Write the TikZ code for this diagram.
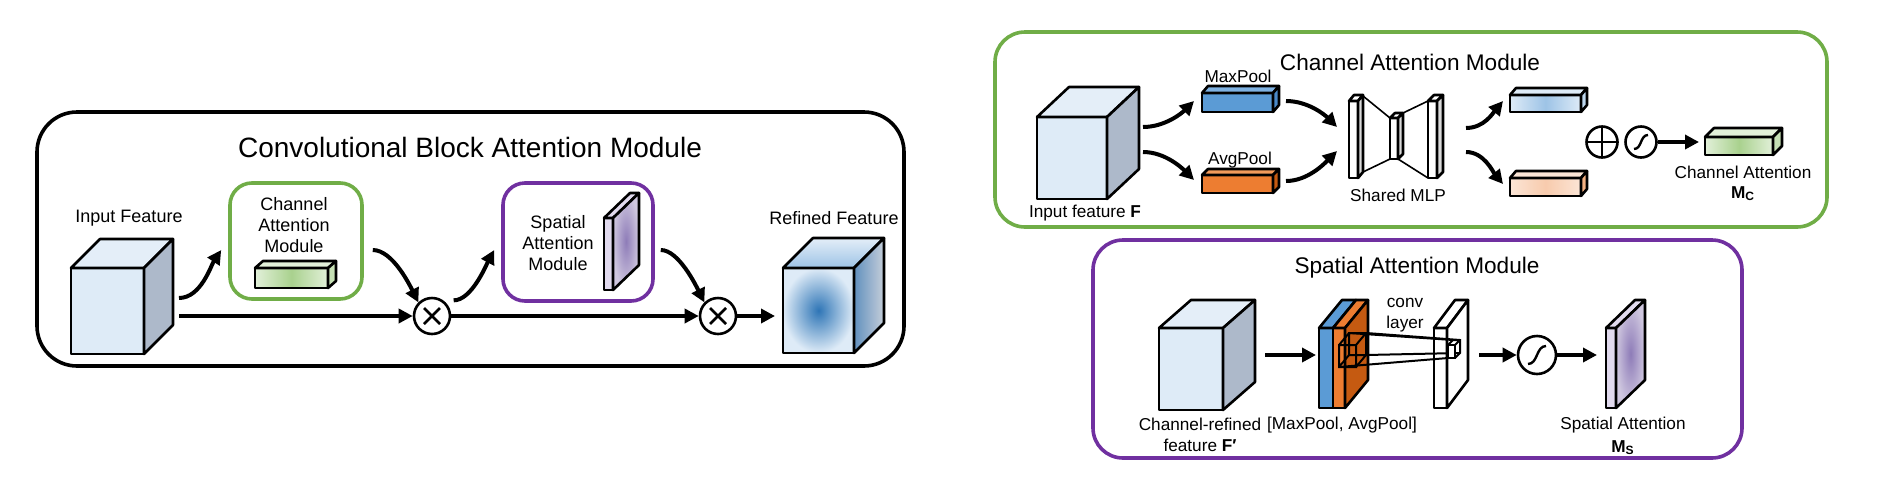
\documentclass[tikz,border=0pt]{standalone}
\usepackage{fontspec}
\setmainfont{Liberation Sans}
\usetikzlibrary{arrows.meta}

\definecolor{cubeface}{HTML}{DEEBF7}
\definecolor{cubetop}{HTML}{E4EEF8}
\definecolor{cubeside}{HTML}{ADB9CA}
\definecolor{camgreen}{HTML}{70AD47}
\definecolor{sampurple}{HTML}{7030A0}
\definecolor{poolblue}{HTML}{5B9BD5}
\definecolor{poolbluetop}{HTML}{7FB2E2}
\definecolor{poolblueside}{HTML}{4A89C8}
\definecolor{poolorange}{HTML}{ED7D31}
\definecolor{poolorangetop}{HTML}{F29A5A}
\definecolor{poolbrown}{HTML}{C55A11}
\definecolor{refblue}{HTML}{2E75B6}
\definecolor{lightgreen}{HTML}{E2F0D9}
\definecolor{midgreen}{HTML}{A9D18E}
\definecolor{sidegreen}{HTML}{C5E0B4}
\definecolor{lightblue}{HTML}{DEEBF7}
\definecolor{midblue}{HTML}{9DC3E6}
\definecolor{sideblue}{HTML}{BDD7EE}
\definecolor{lightpeach}{HTML}{FBE5D6}
\definecolor{midpeach}{HTML}{F8CBAD}
\definecolor{sidepeach}{HTML}{F4B183}
\definecolor{lavender}{HTML}{E1DAEE}
\definecolor{graylav}{HTML}{CFC7DF}
\definecolor{midpurple}{HTML}{8E7CB8}
\definecolor{mlpside}{HTML}{DADADA}

\tikzset{
  cubeline/.style={line width=1.3pt, line join=round},
  arr/.style={line width=2pt, -{Triangle[length=7pt,width=7pt]}},
  lbl/.style={font=\fontsize{8.6}{10.2}\selectfont, inner sep=0pt},
  lblL/.style={font=\fontsize{9}{10.7}\selectfont, inner sep=0pt},
  ttl/.style={font=\fontsize{11.3}{13}\selectfont, inner sep=0pt},
  bigttl/.style={font=\fontsize{14}{16}\selectfont, inner sep=0pt},
  frame/.style={draw, line width=1.8pt, rounded corners=15pt},
  otimes/.style={circle, draw, line width=1.3pt, minimum size=18pt, inner sep=0pt,
    path picture={\draw[line width=1.3pt]
      ([shift={(-8,-8)}]path picture bounding box.center) -- ([shift={(8,8)}]path picture bounding box.center)
      ([shift={(-8,8)}]path picture bounding box.center) -- ([shift={(8,-8)}]path picture bounding box.center);}},
  oplus/.style={circle, draw, line width=1.3pt, minimum size=15.5pt, inner sep=0pt,
    path picture={\draw[line width=1.3pt]
      (path picture bounding box.north) -- (path picture bounding box.south)
      (path picture bounding box.west) -- (path picture bounding box.east);}},
  sigm/.style={circle, draw, line width=1.3pt, minimum size=15.5pt, inner sep=0pt,
    path picture={\draw[line width=1.2pt]
      ([shift={(-#1,#1)}]path picture bounding box.center) .. controls ([shift={(1,#1)}]path picture bounding box.center)
      and ([shift={(-1,-#1)}]path picture bounding box.center) .. ([shift={(#1,-#1)}]path picture bounding box.center);}},
  sigm/.default=7
}

% x y w h dx dy front top side
\newcommand{\prism}[9]{%
  \path[draw,cubeline,#7] (#1,#2) rectangle ++(#3,#4);
  \path[draw,cubeline,#8] (#1,#2) -- ++(#5,-#6) -- ++(#3,0) -- ++(-#5,#6) -- cycle;
  \path[draw,cubeline,#9] (#1+#3,#2) -- ++(#5,-#6) -- ++(0,#4) -- ++(-#5,#6) -- cycle;
}

\begin{document}
\begin{tikzpicture}[x=0.5pt,y=-0.5pt]
\useasboundingbox (0,0) rectangle (1885,483);

% ---------- CBAM overview ----------
\node[frame, rounded corners=20pt, minimum width=433.5pt, minimum height=127pt] (cbam) at (470.5,239) {};
\node[bigttl] (cbamtitle) at (470,147) {Convolutional Block Attention Module};

\prism{71}{268}{73}{86}{29}{29}{fill=cubeface}{fill=cubetop}{fill=cubeside}
\node[lblL] (inlabel) at (129,218) {Input Feature};

\node[frame, draw=camgreen, rounded corners=11pt, minimum width=66pt, minimum height=58pt] (cambox) at (296,241) {};
\node[lblL, align=center] (camtext) at (294,225) {Channel\\Attention\\Module};
\prism{255}{268}{73}{20}{8}{7}{left color=lightgreen,right color=lightgreen,middle color=midgreen}{fill=lightgreen}{fill=sidegreen}

\node[frame, draw=sampurple, rounded corners=11pt, minimum width=75pt, minimum height=59pt] (sambox) at (578,242) {};
\node[lblL, align=center] (samtext) at (558,243) {Spatial\\Attention\\Module};
\prism{604}{218}{9}{72}{26}{25}{fill=lavender}{fill=lavender}{inner color=midpurple,outer color=graylav}

\node[otimes] (ox1) at (432,316) {};
\node[otimes] (ox2) at (718,316) {};

\prism{783}{268}{71}{85}{30}{30}{inner color=refblue,outer color=cubeface}{top color=cubetop,bottom color=midblue}{left color=refblue!60!cubeside,right color=cubeside!70!white}
\node[lblL] (reflabel) at (834,218) {Refined Feature};

\coordinate (inOutUp) at (179,298);
\coordinate (inOutLow) at (179,316);
\coordinate (refIn) at (775,316);
\draw[arr] (inOutUp) .. controls +(22,0) and +(-10,15) .. ([shift={(-7,9)}]cambox.west);
\draw[arr] (inOutLow) -- (ox1.west);
\draw[arr] ([shift={(9,9)}]cambox.east) .. controls +(20,0) and +(-8,-16) .. (ox1.north west);
\draw[arr] ([shift={(8,-2)}]ox1.north east) .. controls +(18,0) and +(-8,15) .. ([shift={(-7,8)}]sambox.west);
\draw[arr] (ox1.east) -- (ox2.west);
\draw[arr] ([shift={(6,8)}]sambox.east) .. controls +(18,0) and +(-8,-16) .. (ox2.north west);
\draw[arr] (ox2.east) -- (refIn);

% ---------- Channel attention module ----------
\node[frame, draw=camgreen, minimum width=416pt, minimum height=97.5pt] (camframe) at (1411,129.5) {};
\node[ttl] (camtitle) at (1410,62) {Channel Attention Module};

\prism{1037}{117}{70}{82}{32}{30}{fill=cubeface}{fill=cubetop}{fill=cubeside}
\node[lbl] (flabel) at (1085,213) {Input feature \textbf{F}};

\prism{1202}{93}{71}{19}{6}{7}{fill=poolblue}{fill=poolbluetop}{fill=poolblueside}
\node[lbl] (maxlabel) at (1238,76) {MaxPool};
\prism{1202}{175}{71}{18}{6}{6}{fill=poolorange}{fill=poolorangetop}{fill=poolbrown}
\node[lbl] (avglabel) at (1240,160) {AvgPool};

% shared MLP
\draw[line width=0.8pt] (1363,96) -- (1390,118) (1363,172) -- (1390,159)
  (1403,113) -- (1428,101) (1398,159) -- (1428,178);
\prism{1349}{101}{9}{77}{5}{6}{fill=white}{fill=white}{fill=mlpside}
\prism{1390}{118}{8}{41}{5}{5}{fill=white}{fill=white}{fill=mlpside}
\prism{1428}{101}{9}{77}{6}{6}{fill=white}{fill=white}{fill=mlpside}
\node[lbl] (mlplabel) at (1398,195) {Shared MLP};

\prism{1510}{95}{71}{17}{6}{7}{left color=lightblue,right color=lightblue,middle color=midblue}{fill=lightblue}{fill=sideblue}
\prism{1510}{178}{71}{18}{6}{7}{left color=lightpeach,right color=lightpeach,middle color=midpeach}{fill=lightpeach}{fill=sidepeach}

\node[oplus] (sum) at (1602,142) {};
\node[sigm] (sig1) at (1641,142) {};

\prism{1705}{137}{68}{18}{9}{9}{left color=lightgreen,right color=lightgreen,middle color=midgreen}{fill=lightgreen}{fill=sidegreen}
\node[lbl] (calabel) at (1743,172) {Channel Attention};
\node[lbl] (mclabel) at (1743,194) {\textbf{M\textsubscript{C}}};

\coordinate (fOutUp) at (1143,127);
\coordinate (fOutLow) at (1143,152);
\coordinate (maxIn) at (1194,101);
\coordinate (avgIn) at (1194,180);
\coordinate (maxOut) at (1286,101);
\coordinate (avgOut) at (1286,181);
\coordinate (mlpInUp) at (1337,127);
\coordinate (mlpInLow) at (1337,151);
\coordinate (mlpOutUp) at (1466,128);
\coordinate (mlpOutLow) at (1466,152);
\coordinate (outUpIn) at (1503,101);
\coordinate (outLowIn) at (1503,184);
\coordinate (caIn) at (1699,142);
\draw[arr] (fOutUp) .. controls +(22,0) and +(-12,12) .. (maxIn);
\draw[arr] (fOutLow) .. controls +(22,0) and +(-12,-12) .. (avgIn);
\draw[arr] (maxOut) .. controls +(22,0) and +(-12,-12) .. (mlpInUp);
\draw[arr] (avgOut) .. controls +(22,0) and +(-12,12) .. (mlpInLow);
\draw[arr] (mlpOutUp) .. controls +(18,0) and +(-10,12) .. (outUpIn);
\draw[arr] (mlpOutLow) .. controls +(18,0) and +(-10,-12) .. (outLowIn);
\draw[arr] (sig1.east) -- (caIn);

% ---------- Spatial attention module ----------
\node[frame, draw=sampurple, minimum width=324.5pt, minimum height=109pt] (samframe) at (1417.5,349) {};
\node[ttl] (samtitle) at (1417,268) {Spatial Attention Module};

\prism{1159}{328}{64}{82}{32}{28}{fill=cubeface}{fill=cubetop}{fill=cubeside}
\node[lbl, align=center] (fplabel) at (1200,435) {Channel-refined\\feature \textbf{F′}};

% pooled maps
\path[draw,cubeline,fill=poolblue] (1319,328) rectangle (1333,408);
\path[draw,cubeline,fill=poolorange] (1333,328) rectangle (1345,408);
\path[draw,cubeline,fill=poolblue] (1319,328) -- (1342,300) -- (1356,300) -- (1333,328) -- cycle;
\path[draw,cubeline,fill=poolorange] (1333,328) -- (1356,300) -- (1368,300) -- (1345,328) -- cycle;
\path[draw,cubeline,fill=poolbrown] (1345,328) -- (1368,300) -- (1368,380) -- (1345,408) -- cycle;
\node[lbl] (poollabel) at (1342,425) {[MaxPool, AvgPool]};

% kernel
\draw[line width=1pt] (1339,345) rectangle (1356,367) (1349,333) rectangle (1366,355)
  (1339,345) -- (1349,333) (1356,345) -- (1366,333) (1339,367) -- (1349,355) (1356,367) -- (1366,355);

% conv layer
\prism{1434}{328}{13}{80}{21}{28}{fill=white}{fill=white}{fill=white}
\node[lbl, align=center] (convlabel) at (1405,315) {conv\\layer};
\draw[line width=1pt] (1349,333) -- (1453,340) (1366,333) -- (1460,340)
  (1339,367) -- (1448,358) (1366,355) -- (1460,353);
\draw[line width=1pt, fill=white] (1448,345) rectangle (1455,358);
\draw[line width=1pt] (1448,345) -- (1453,340) -- (1460,340) -- (1460,353) -- (1455,358) (1455,345) -- (1460,340);

\node[sigm=9, minimum size=19pt] (sig2) at (1537,355) {};

\prism{1606}{328}{10}{80}{29}{28}{fill=lavender}{fill=lavender}{inner color=midpurple,outer color=graylav}
\node[lbl] (salabel) at (1623,425) {Spatial Attention};
\node[lbl] (mslabel) at (1623,448) {\textbf{M\textsubscript{S}}};

\coordinate (fpOut) at (1265,355);
\coordinate (poolIn) at (1316,355);
\coordinate (convOut) at (1479,355);
\coordinate (saIn) at (1597,355);
\draw[arr] (fpOut) -- (poolIn);
\draw[arr] (convOut) -- (sig2.west);
\draw[arr] (sig2.east) -- (saIn);
\end{tikzpicture}
\end{document}
